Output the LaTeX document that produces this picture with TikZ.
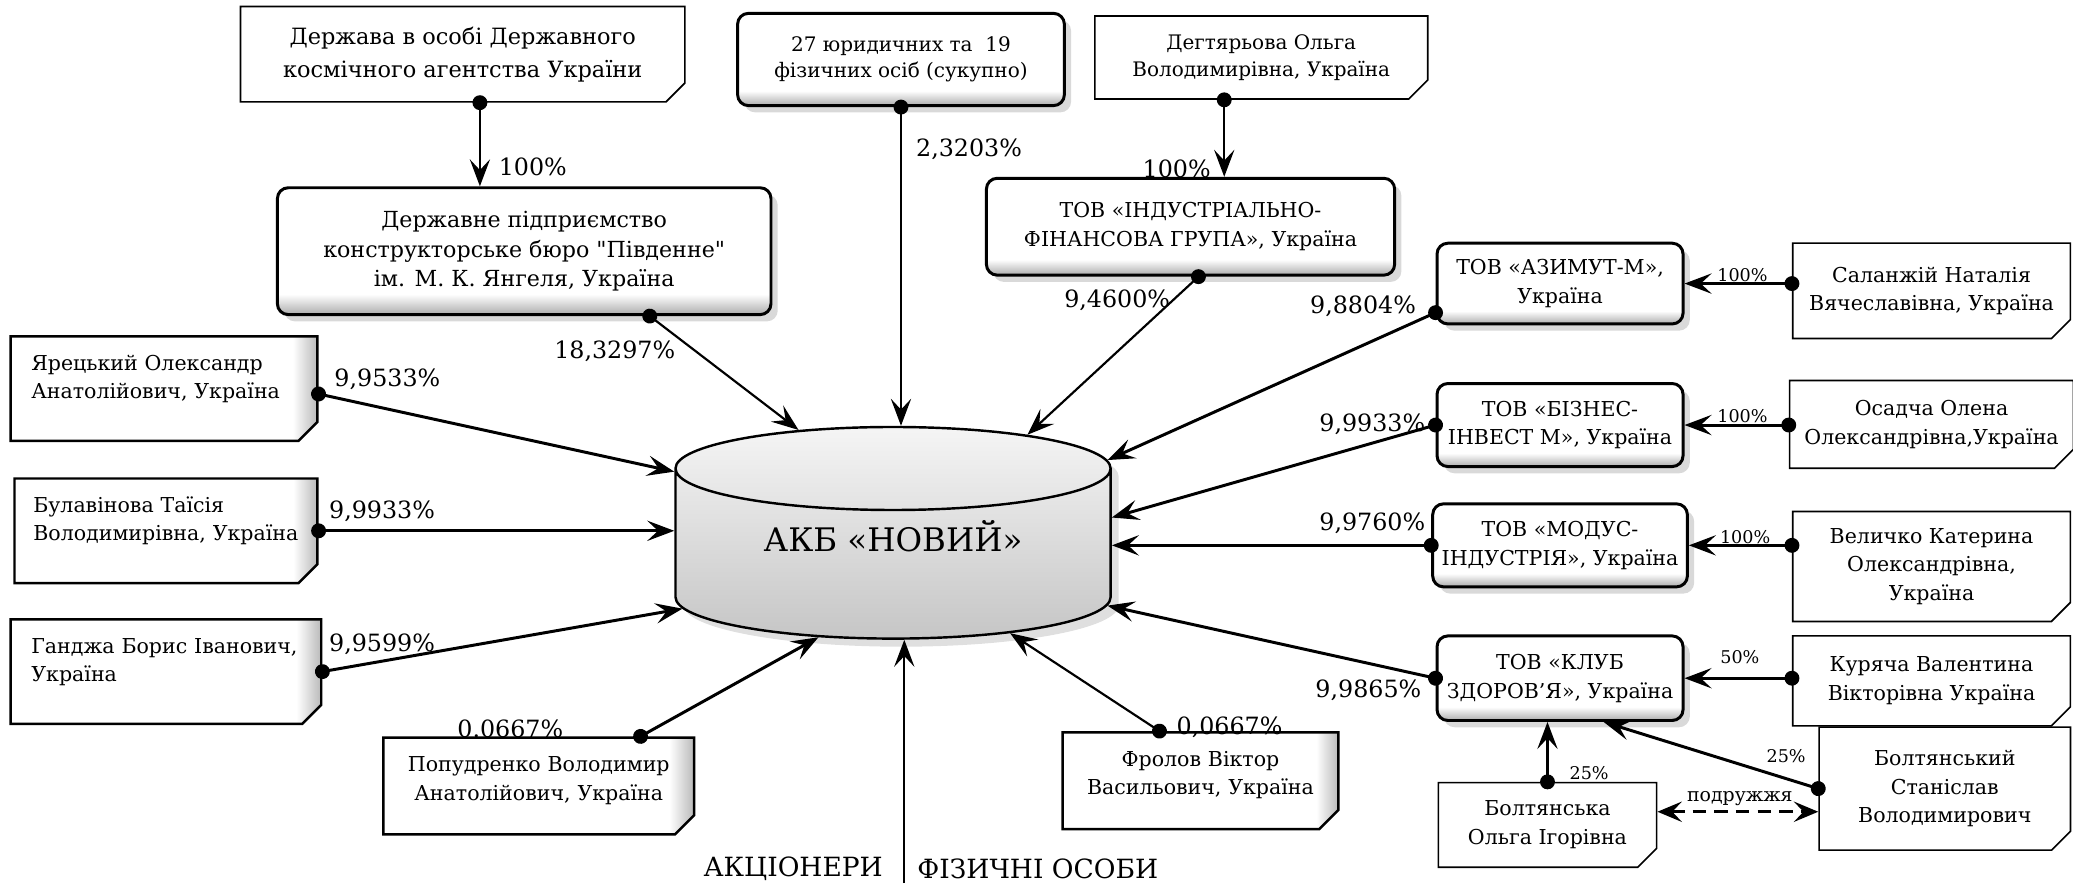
\documentclass[tikz,border=0pt]{standalone}
\usepackage{fontspec}
\setmainfont{DejaVu Serif}[Ligatures=TeXOff]
\usetikzlibrary{arrows.meta}
\usetikzlibrary{calc}
\usetikzlibrary{shadows}
\usetikzlibrary {shapes.geometric}
\usetikzlibrary {shapes.misc}

\pgfdeclareverticalshading{bevel}{100bp}{color(0bp)=(gray!65); color(25bp)=(gray!65); color(33bp)=(white); color(100bp)=(white)}
\pgfdeclarehorizontalshading{curl}{100bp}{color(0bp)=(white); color(71bp)=(white); color(75bp)=(gray!55); color(100bp)=(gray!55)}

\tikzset{
    note/.style={chamfered rectangle, chamfered rectangle corners=south east,
        chamfered rectangle sep=3.5pt, draw, line width=0.6pt, fill=white,
        align=center, inner sep=2pt, font=\fontsize{7.6}{10.6}\selectfont,
        path picture={\draw[line width=0.4pt, fill=gray!35]
            ([yshift=3.5pt]path picture bounding box.south east)
            -- ([xshift=-3.5pt]path picture bounding box.south east)
            -- ([xshift=-2.6pt,yshift=3.1pt]path picture bounding box.south east) -- cycle;}},
    lnote/.style={note, shade, shading=curl, line width=0.9pt, text width=#1, align=left,
        text height=7pt, text depth=20.7pt},
    cnote/.style={note, shade, shading=curl, line width=0.9pt, text width=#1,
        text height=7pt, text depth=17.8pt},
    org/.style={rectangle, rounded corners=4pt, draw, line width=1.1pt, shade, shading=bevel,
        drop shadow={shadow xshift=2.5pt, shadow yshift=-2.5pt, opacity=0.3},
        align=center, font=\fontsize{7.6}{10.6}\selectfont},
    bank/.style={cylinder, shape border rotate=90, aspect=0.3, draw, line width=0.9pt,
        top color=gray!8, bottom color=gray!45, text depth=18pt,
        drop shadow={shadow xshift=3pt, shadow yshift=-3pt, opacity=0.25},
        font=\fontsize{12}{14}\selectfont},
    link/.style={line width=0.8pt, shorten <=-2.75pt,
        arrows={Circle[length=5.5pt]-Stealth[length=10pt, width=7.5pt, inset=4pt]}},
    bold link/.style={link, line width=1.1pt},
    head/.style={line width=0.8pt, arrows={-Stealth[length=10pt, width=7.5pt, inset=4pt]}},
    spouse/.style={line width=1.1pt, dash pattern=on 5pt off 3pt,
        arrows={Stealth[length=9pt, width=7.5pt, inset=3.5pt]-Stealth[length=9pt, width=7.5pt, inset=3.5pt]}},
    pct/.style={font=\fontsize{8.8}{10}\selectfont, inner sep=0pt},
    small pct/.style={font=\fontsize{6.5}{8}\selectfont, inner sep=0pt}
}

\begin{document}
\begin{tikzpicture}[x=0.0172cm, y=-0.0172cm]

            \useasboundingbox (0,0) rectangle (1568,668);

            \path   (350,41) node (derzh) [note, minimum width=5.78cm, minimum height=1.24cm, font=\fontsize{8.3}{12.2}\selectfont] {Держава в особі Державного\\космічного агентства України}
                    (396.5,190) node (dp) [org, minimum width=6.42cm, minimum height=1.65cm, font=\fontsize{8.2}{10.8}\selectfont] {Державне підприємство\\конструкторське бюро "Південне"\\ім. М. К. Янгеля, Україна}
                    (681.5,45) node (jur) [org, minimum width=4.25cm, minimum height=1.2cm, font=\fontsize{7.4}{9.8}\selectfont] {27 юридичних та~ 19\\фізичних осіб (сукупно)}
                    (954,43.5) node (degt) [note, minimum width=4.33cm, minimum height=1.08cm, font=\fontsize{7.4}{9.8}\selectfont] {Дегтярьова Ольга\\Володимирівна, Україна}
                    (900.5,171.5) node (ifg) [org, minimum width=5.31cm, minimum height=1.26cm] {ТОВ «ІНДУСТРІАЛЬНО-\\ФІНАНСОВА ГРУПА», Україна}
                    (1180,214.5) node (azimut) [org, minimum width=3.2cm, minimum height=1.05cm] {ТОВ «АЗИМУТ-М»,\\Україна}
                    (1461,220) node (salan) [note, minimum width=3.61cm, minimum height=1.24cm] {Саланжій Наталія\\Вячеславівна, Україна}
                    (1180,321.5) node (biznes) [org, minimum width=3.2cm, minimum height=1.08cm] {ТОВ «БІЗНЕС-\\ІНВЕСТ М», Україна}
                    (1461,321) node (osad) [note, minimum width=3.61cm, minimum height=1.14cm] {Осадча Олена\\Олександрівна,Україна}
                    (1180,412.5) node (modus) [org, minimum width=3.2cm, minimum height=1.08cm] {ТОВ «МОДУС-\\ІНДУСТРІЯ», Україна}
                    (1461,428.5) node (velych) [note, minimum width=3.61cm, minimum height=1.43cm] {Величко Катерина\\Олександрівна,\\Україна}
                    (1180,513) node (klub) [org, minimum width=3.2cm, minimum height=1.1cm] {ТОВ «КЛУБ\\ЗДОРОВ’Я», Україна}
                    (1461,515) node (kur) [note, minimum width=3.61cm, minimum height=1.17cm] {Куряча Валентина\\Вікторівна Україна}
                    (1471,596.5) node (boltst) [note, minimum width=3.27cm, minimum height=1.6cm] {Болтянський\\Станіслав\\Володимирович}
                    (1170.5,624) node (boltol) [note, minimum width=2.84cm, minimum height=1.1cm] {Болтянська\\Ольга Ігорівна}
                    (124,294) node (yar) [lnote=3.45cm, minimum width=3.99cm, minimum height=1.24cm] {Ярецький Олександр\\Анатолійович, Україна}
                    (125.5,401.5) node (bul) [lnote=3.45cm, minimum width=3.94cm, minimum height=1.26cm] {Булавінова Таїсія\\Володимирівна, Україна}
                    (125.5,508) node (gandzh) [lnote=3.5cm, minimum width=4.04cm, minimum height=1.27cm] {Ганджа Борис Іванович,\\Україна}
                    (407.5,594.5) node (popud) [cnote=3.6cm, minimum width=4.04cm, minimum height=1.15cm] {Попудренко Володимир\\Анатолійович, Україна}
                    (908,590.5) node (frol) [cnote=3.2cm, minimum width=3.54cm, minimum height=1.15cm] {Фролов Віктор\\Васильович, Україна}
                    (675.5,403) node (bank) [bank, anchor=shape center, minimum width=5.66cm, minimum height=2.45cm] {АКБ «НОВИЙ»};

            \path   (403,126) node (pDerzh) [pct] {100\%}
                    (465,266) node (pDp) [pct] {18,3297\%}
                    (733,113) node (pJur) [pct] {2,3203\%}
                    (890,128) node (pDegt) [pct] {100\%}
                    (845,227) node (pIfg) [pct] {9,4600\%}
                    (1031,232) node (pAzimut) [pct] {9,8804\%}
                    (1038,321) node (pBiznes) [pct] {9,9933\%}
                    (1038,396) node (pModus) [pct] {9,9760\%}
                    (1035,522) node (pKlub) [pct] {9,9865\%}
                    (1318,208) node (pSalan) [small pct] {100\%}
                    (1318,315) node (pOsad) [small pct] {100\%}
                    (1320,406) node (pVelych) [small pct] {100\%}
                    (1316,497) node (pKur) [small pct] {50\%}
                    (1351,572) node (pBoltst) [small pct] {25\%}
                    (1202,585) node (pBoltol) [small pct] {25\%}
                    (1316,604) node (pSpouse) [small pct, font=\fontsize{7}{8}\selectfont] {подружжя}
                    (293,287) node (pYar) [pct] {9,9533\%}
                    (289,387) node (pBul) [pct] {9,9933\%}
                    (289,487) node (pGandzh) [pct] {9,9599\%}
                    (386,551) node (pPopud) [pct] {0.0667\%}
                    (930,550) node (pFrol) [pct] {0,0667\%}
                    (600,657) node (akc) [pct, font=\fontsize{9.8}{12}\selectfont] {АКЦІОНЕРИ}
                    (785,657) node (fiz) [pct, font=\fontsize{9.8}{12}\selectfont] {ФІЗИЧНІ ОСОБИ};

            \coordinate (dDerzh) at ($(derzh.south)+(13,0)$);
            \coordinate (dDp) at ($(dp.south)+(95,0)$);
            \coordinate (dDegt) at ($(degt.south)+(-28,0)$);
            \coordinate (dIfg) at ($(ifg.south)+(6,0)$);
            \coordinate (dAzimut) at ($(azimut.west)+(0,22)$);
            \coordinate (dYar) at ($(yar.east)+(0,4)$);
            \coordinate (dPopud) at ($(popud.north)+(77,0)$);
            \coordinate (dFrol) at ($(frol.north)+(-31,0)$);
            \coordinate (dSpouse) at ($(boltol.east)+(0,-10)$);
            \coordinate (tKlub) at ($(klub.south)+(33,0)$);
            \coordinate (fizBase) at (684,668);

            \draw[link] (dDerzh) -- (dDerzh |- dp.north);
            \draw[link] (dDp) -- (node cs:name=bank, angle=126);
            \draw[link] (node cs:name=jur, anchor=south) -- (jur.south |- bank.90);
            \draw[link] (dDegt) -- (dDegt |- ifg.north);
            \draw[link] (dIfg) -- (node cs:name=bank, angle=43);
            \draw[bold link] (dAzimut) -- (node cs:name=bank, angle=25);
            \draw[bold link] (node cs:name=biznes, anchor=west) -- (node cs:name=bank, angle=11);
            \draw[bold link] (node cs:name=modus, anchor=west) -- (modus.west -| bank.0);
            \draw[bold link] (node cs:name=klub, anchor=west) -- (node cs:name=bank, angle=348);
            \draw[bold link] (azimut.east -| salan.west) -- (node cs:name=azimut, anchor=east);
            \draw[bold link] (biznes.east -| osad.west) -- (node cs:name=biznes, anchor=east);
            \draw[bold link] (modus.east -| velych.west) -- (node cs:name=modus, anchor=east);
            \draw[bold link] (klub.east -| kur.west) -- (node cs:name=klub, anchor=east);
            \draw[bold link] (node cs:name=boltst, anchor=west) -- (tKlub);
            \draw[bold link] (node cs:name=boltol, anchor=north) -- (boltol.north |- klub.south);
            \draw[spouse] (dSpouse) -- (dSpouse -| boltst.west);
            \draw[bold link] (dYar) -- (node cs:name=bank, angle=158);
            \draw[bold link] (node cs:name=bul, anchor=east) -- (bul.east -| bank.180);
            \draw[bold link] (node cs:name=gandzh, anchor=east) -- (node cs:name=bank, angle=193);
            \draw[bold link] (dPopud) -- (node cs:name=bank, angle=226);
            \draw[link] (dFrol) -- (node cs:name=bank, angle=328);
            \draw[head] (fizBase) -- (fizBase |- bank.270);

\end{tikzpicture}
\end{document}
